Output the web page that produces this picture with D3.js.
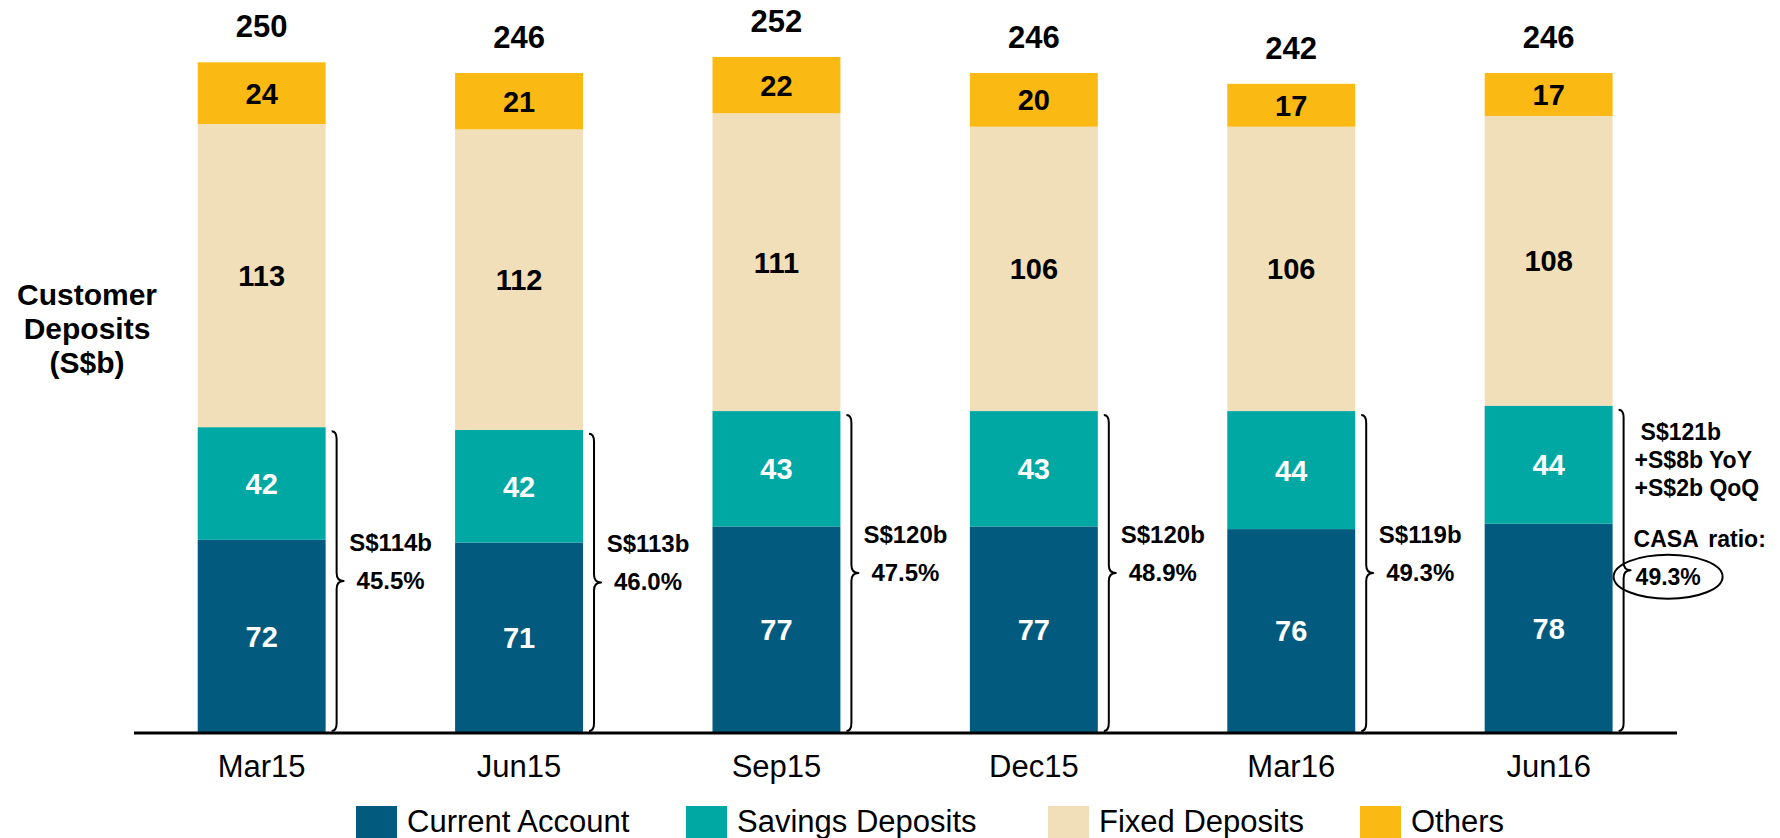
<!DOCTYPE html>
<html>
<head>
    <title></title>
    <style>
        body {
            margin: 0;
            background: #fff;
        }
        text {
            font-family: "Liberation Sans", Arial, sans-serif;
        }
        .brace, .ring {
            fill: none;
            stroke: #000;
            stroke-width: 2px;
            stroke-linejoin: round;
        }
        .baseline {
            stroke: #000;
            stroke-width: 3px;
        }
    </style>
</head>
<body>
<script src="https://cdn.jsdelivr.net/npm/d3@7"></script>
<script>
    var width = 1780;
    var height = 838;

    var categories = ["Mar15", "Jun15", "Sep15", "Dec15", "Mar16", "Jun16"];
    var currentAccount = [72, 71, 77, 77, 76, 78];
    var savingsDeposits = [42, 42, 43, 43, 44, 44];
    var fixedDeposits = [113, 112, 111, 106, 106, 108];
    var others = [24, 21, 22, 20, 17, 17];
    var totals = [250, 246, 252, 246, 242, 246];
    var casaAmounts = ["S$114b", "S$113b", "S$120b", "S$120b", "S$119b", "S$121b"];
    var casaRatios = ["45.5%", "46.0%", "47.5%", "48.9%", "49.3%", "49.3%"];
    var latestNotes = ["+S$8b YoY", "+S$2b QoQ"];
    var seriesNames = ["Current Account", "Savings Deposits", "Fixed Deposits", "Others"];
    var colors = ["#025b7e", "#00a8a4", "#f0dfb9", "#fbb914"];
    var labelColors = ["#fff", "#fff", "#000", "#000"];

    var svg = d3.select("body").append("svg")
            .attr("width", width)
            .attr("height", height);

    var x = d3.scaleBand()
            .domain(categories)
            .range([69, 1741.3])
            .paddingInner(0.503)
            .paddingOuter(0.5);

    var y = d3.scaleLinear()
            .domain([0, 250])
            .range([733, 62.3]);

    // one row per quarter, segments stacked bottom-up; the top one closes at the reported total
    var rows = categories.map(function(c, i) {
        var vals = [currentAccount[i], savingsDeposits[i], fixedDeposits[i], others[i]];
        var y0 = 0;
        var segs = vals.map(function(v, k) {
            var top = k == 3 ? totals[i] : y0 + v;
            var s = {key: k, value: v, y0: y0, y1: top};
            y0 = top;
            return s;
        });
        return {cat: c, i: i, segs: segs};
    });

    var bar = svg.selectAll("g.bar").data(rows).enter().append("g")
            .attr("class", "bar")
            .attr("transform", function(d) { return "translate(" + x(d.cat) + ",0)"; });

    bar.selectAll("rect").data(function(d) { return d.segs; }).enter().append("rect")
            .attr("x", 0)
            .attr("width", x.bandwidth())
            .attr("y", function(s) { return y(s.y1); })
            .attr("height", function(s) { return y(s.y0) - y(s.y1); })
            .attr("fill", function(s) { return colors[s.key]; });

    bar.selectAll("text.seg").data(function(d) { return d.segs; }).enter().append("text")
            .attr("class", "seg")
            .attr("x", x.bandwidth() / 2)
            .attr("y", function(s) { return (y(s.y0) + y(s.y1)) / 2; })
            .attr("dy", "0.36em")
            .attr("text-anchor", "middle")
            .attr("font-size", 29)
            .attr("font-weight", "bold")
            .attr("fill", function(s) { return labelColors[s.key]; })
            .text(function(s) { return s.value; });

    bar.append("text")
            .attr("x", x.bandwidth() / 2)
            .attr("y", function(d) { return y(totals[d.i]) - 25; })
            .attr("text-anchor", "middle")
            .attr("font-size", 31)
            .attr("font-weight", "bold")
            .text(function(d) { return totals[d.i]; });

    // CASA braces
    function bracePath(x0, top, bottom) {
        var xv = x0 + 5, xt = x0 + 12, r = 8;
        var mid = (top + bottom) / 2;
        return "M" + x0 + "," + top +
                "Q" + xv + "," + top + " " + xv + "," + (top + r) +
                "L" + xv + "," + (mid - r) +
                "Q" + xv + "," + mid + " " + xt + "," + mid +
                "Q" + xv + "," + mid + " " + xv + "," + (mid + r) +
                "L" + xv + "," + (bottom - r) +
                "Q" + xv + "," + bottom + " " + x0 + "," + bottom;
    }

    rows.forEach(function(d) {
        var right = x(d.cat) + x.bandwidth();
        var top = y(currentAccount[d.i] + savingsDeposits[d.i]) + 4;
        var bottom = 731;
        var tip = (top + bottom) / 2;
        svg.append("path")
                .attr("class", "brace")
                .attr("d", bracePath(right + 6, top, bottom));

        if (d.i < categories.length - 1) {
            svg.append("text")
                    .attr("x", right + 65).attr("y", tip - 30)
                    .attr("text-anchor", "middle")
                    .attr("font-size", 24).attr("font-weight", "bold")
                    .text(casaAmounts[d.i]);
            svg.append("text")
                    .attr("x", right + 65).attr("y", tip + 8)
                    .attr("text-anchor", "middle")
                    .attr("font-size", 24).attr("font-weight", "bold")
                    .text(casaRatios[d.i]);
        } else {
            var lines = [casaAmounts[d.i]].concat(latestNotes);
            svg.selectAll("text.note").data(lines).enter().append("text")
                    .attr("class", "note")
                    .attr("x", function(t, j) { return right + (j == 0 ? 28 : 22); })
                    .attr("y", function(t, j) { return top + 30 + j * 28; })
                    .attr("font-size", 23).attr("font-weight", "bold")
                    .text(function(t) { return t; });
            svg.append("text")
                    .attr("x", right + 21).attr("y", top + 137)
                    .attr("font-size", 23).attr("font-weight", "bold")
                    .attr("word-spacing", 4)
                    .text("CASA ratio:");
            svg.append("ellipse")
                    .attr("class", "ring")
                    .attr("cx", right + 55.5).attr("cy", top + 167)
                    .attr("rx", 54.5).attr("ry", 22);
            svg.append("text")
                    .attr("x", right + 23).attr("y", top + 175)
                    .attr("font-size", 23).attr("font-weight", "bold")
                    .text(casaRatios[d.i]);
        }
    });

    svg.append("line")
            .attr("class", "baseline")
            .attr("x1", 134).attr("x2", 1677)
            .attr("y1", y(0)).attr("y2", y(0));

    var xAxis = svg.append("g")
            .attr("transform", "translate(0," + y(0) + ")")
            .call(d3.axisBottom(x).tickSize(0).tickPadding(0));
    xAxis.select(".domain").remove();
    xAxis.selectAll("text")
            .attr("y", 44)
            .attr("dy", 0)
            .attr("font-size", 31)
            .attr("font-family", "\"Liberation Sans\", Arial, sans-serif")
            .attr("fill", "#000");

    // y title
    var title = svg.append("text")
            .attr("text-anchor", "middle")
            .attr("font-size", 30)
            .attr("font-weight", "bold");
    ["Customer", "Deposits", "(S$b)"].forEach(function(t, j) {
        title.append("tspan").attr("x", 87).attr("y", 305 + j * 34).text(t);
    });

    // legend
    var legendX = [356, 686, 1048, 1360];
    var legend = svg.selectAll("g.legend").data(seriesNames).enter().append("g")
            .attr("class", "legend")
            .attr("transform", function(d, k) { return "translate(" + legendX[k] + ",806)"; });
    legend.append("rect")
            .attr("width", 41).attr("height", 34)
            .attr("fill", function(d, k) { return colors[k]; });
    legend.append("text")
            .attr("x", 51).attr("y", 26)
            .attr("font-size", 31)
            .text(function(d) { return d; });
</script>
</body>
</html>
